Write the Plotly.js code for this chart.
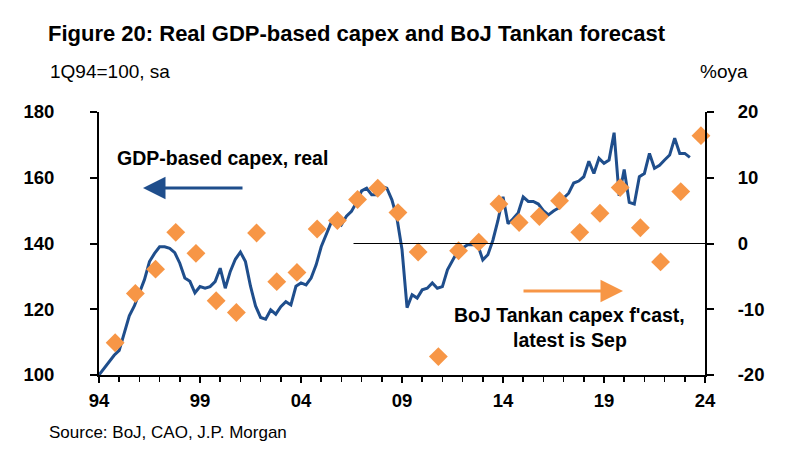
<!DOCTYPE html>
<html>
<head>
<meta charset="utf-8">
<script src="https://cdn.plot.ly/plotly-3.0.1.min.js"></script>
<style>
  html, body { margin: 0; padding: 0; background: #ffffff; }
  #chart { width: 799px; height: 465px; }
</style>
</head>
<body>
<div id="chart"></div>
<script>
// Real GDP-based capex, quarterly from 1Q94 (1Q94 = 100, sa) - left axis
const capexStartYear = 1994;
const capex = [
  100, 102, 104, 106, 107.5, 113, 118, 121, 124.8, 129,
  134.5, 137, 139, 139, 138.5, 137.2, 134, 129.5, 128.5, 125,
  126.9, 126.4, 126.9, 128.4, 132.5, 126.4, 131.5, 135.2, 137.4, 134.5,
  127, 121, 117.5, 117, 119.8, 118.5, 120.8, 122.3, 121.3, 127,
  128, 127.4, 129.5, 133.5, 139, 143, 146.5, 147.3, 145.7, 148.3,
  149.8, 152.5, 156, 156.8, 154.8, 154.8, 157.3, 156.8, 153.3, 147.7,
  138.2, 120.5, 124.4, 123.4, 125.9, 126.4, 128, 126.4, 126.9, 132,
  135, 137.6, 138.6, 139.6, 139.6, 139.6, 135, 136.6, 141, 147,
  154.2, 146, 147.5, 149.3, 154.2, 152.8, 152.8, 152, 150, 148.7,
  149.9, 150.8, 153.8, 155.3, 158.4, 159, 160.3, 165, 161.3, 165.9,
  164.4, 165.4, 173.7, 154.5, 162.5, 152.5, 152, 160.3, 161.3, 167.4,
  162.9, 163.8, 165.4, 166.9, 172, 167.4, 167.4, 166.2
];

// BoJ Tankan capex forecast, %oya, by fiscal year - right axis
const tankanFY = [
  1994, 1995, 1996, 1997, 1998, 1999, 2000, 2001, 2002, 2003,
  2004, 2005, 2006, 2007, 2008, 2009, 2010, 2011, 2012, 2013,
  2014, 2015, 2016, 2017, 2018, 2019, 2020, 2021, 2022, 2023
];
const tankan = [
  -15.1, -7.6, -3.9, 1.7, -1.5, -8.7, -10.5, 1.6, -5.8, -4.4,
  2.2, 3.5, 6.7, 8.4, 4.7, -1.3, -17.2, -1.1, 0.2, 6.0,
  3.2, 4.1, 6.5, 1.7, 4.6, 8.5, 2.4, -2.8, 7.9, 16.4
];

const xTickVals = [1994, 1999, 2004, 2009, 2014, 2019, 2024];
const xTickText = ['94', '99', '04', '09', '14', '19', '24'];
const leftTicks = [100, 120, 140, 160, 180];
const rightTicks = [-20, -10, 0, 10, 20];
const rightTickText = ['-20', '-10', '0', '10', '20'];

const capexX = capex.map((v, i) => capexStartYear + i / 4);
const tankanX = tankanFY.map(fy => fy + 0.8);

const FONT = '"Liberation Sans Narrow", "Arial Narrow", "Liberation Sans", Arial, sans-serif';
const BLUE = '#1F4E8C';
const ORANGE = '#F79646';

const traces = [
  {
    x: capexX, y: capex, type: 'scatter', mode: 'lines',
    line: { color: BLUE, width: 3 }, xaxis: 'x', yaxis: 'y',
    hoverinfo: 'x+y', showlegend: false
  },
  {
    x: tankanX, y: tankan, type: 'scatter', mode: 'markers',
    marker: { symbol: 'diamond', size: 14.5, color: ORANGE, line: { width: 0 } },
    xaxis: 'x', yaxis: 'y2', cliponaxis: false,
    hoverinfo: 'x+y', showlegend: false
  }
];

const tickFont = { family: FONT, size: 18.5, color: '#000', weight: 'bold' };

const layout = {
  width: 799, height: 465,
  margin: { l: 99, r: 94, t: 112, b: 90 },
  paper_bgcolor: '#ffffff', plot_bgcolor: '#ffffff',
  font: { family: FONT, color: '#000' },
  title: {
    text: '<b>Figure 20: Real GDP-based capex and BoJ Tankan forecast</b>',
    font: { family: FONT, size: 22, color: '#000' },
    xref: 'container', yref: 'container',
    x: 48 / 799, xanchor: 'left', y: 1 - 33 / 465, yanchor: 'middle'
  },
  xaxis: {
    range: [1994, 2024], showgrid: false, zeroline: false,
    showline: true, linecolor: '#000', linewidth: 2,
    tickmode: 'array', tickvals: xTickVals, ticktext: xTickText,
    ticks: 'outside', ticklen: 6, tickwidth: 2, tickcolor: '#000',
    minor: { dtick: 1, tick0: 1994, ticks: 'outside', ticklen: 5, tickwidth: 1.5, tickcolor: '#000' },
    tickfont: tickFont, ticklabelstandoff: 2,
    anchor: 'y'
  },
  xaxis3: {
    range: [1994, 2024], overlaying: 'x', anchor: 'y',
    showgrid: false, zeroline: false, showline: false,
    tickmode: 'array', tickvals: xTickVals, showticklabels: false,
    ticks: 'inside', ticklen: 6, tickwidth: 2, tickcolor: '#000',
    minor: { dtick: 1, tick0: 1994, ticks: 'inside', ticklen: 2, tickwidth: 1.5, tickcolor: '#000' }
  },
  yaxis: {
    range: [100, 180], showgrid: false, zeroline: false,
    showline: true, linecolor: '#000', linewidth: 2,
    tickmode: 'array', tickvals: leftTicks,
    ticks: 'outside', ticklen: 7, tickwidth: 2, tickcolor: '#000',
    tickfont: tickFont, ticklabelstandoff: 32
  },
  yaxis2: {
    range: [-20, 20], overlaying: 'y', side: 'right', anchor: 'x',
    showgrid: false, zeroline: false,
    showline: true, linecolor: '#000', linewidth: 2,
    tickmode: 'array', tickvals: rightTicks, ticktext: rightTickText,
    ticks: 'outside', ticklen: 7, tickwidth: 2, tickcolor: '#000',
    tickfont: tickFont, ticklabelstandoff: 20
  },
  shapes: [
    { type: 'line', xref: 'x', yref: 'y2', x0: 2006.6, x1: 2024, y0: 0, y1: 0,
      line: { color: '#000', width: 1 } }
  ],
  annotations: [
    { text: '1Q94=100, sa', xref: 'paper', yref: 'paper',
      x: (48 - 99) / 606, y: (375 - 71) / 263, xanchor: 'left', yanchor: 'middle',
      showarrow: false, font: { family: FONT, size: 19, color: '#000' } },
    { text: '%oya', xref: 'paper', yref: 'paper',
      x: (750 - 99) / 606, y: (375 - 71) / 263, xanchor: 'right', yanchor: 'middle',
      showarrow: false, font: { family: FONT, size: 19, color: '#000' } },
    { text: 'Source: BoJ, CAO, J.P. Morgan', xref: 'paper', yref: 'paper',
      x: (47 - 99) / 606, y: (375 - 432) / 263, xanchor: 'left', yanchor: 'middle',
      showarrow: false, font: { family: FONT, size: 17, color: '#000' } },
    { text: '<b>GDP-based capex, real</b>', xref: 'paper', yref: 'paper',
      x: (115 - 99) / 606, y: (375 - 158) / 263, xanchor: 'left', yanchor: 'middle',
      showarrow: false, font: { family: FONT, size: 19.5, color: '#000' } },
    { text: '', xref: 'paper', yref: 'paper',
      x: (143 - 99) / 606, y: (375 - 188) / 263,
      showarrow: true, ax: 101, ay: 0, arrowhead: 2, arrowsize: 1.5, arrowwidth: 3,
      arrowcolor: BLUE, standoff: 0, startstandoff: 0 },
    { text: '', xref: 'paper', yref: 'paper',
      x: (623 - 99) / 606, y: (375 - 291) / 263,
      showarrow: true, ax: -101, ay: 0, arrowhead: 2, arrowsize: 1.5, arrowwidth: 3,
      arrowcolor: ORANGE, standoff: 0, startstandoff: 0 },
    { text: "<b>BoJ Tankan capex f'cast,</b>", xref: 'paper', yref: 'paper',
      x: (569 - 99) / 606, y: (375 - 315) / 263, xanchor: 'center', yanchor: 'middle',
      showarrow: false, font: { family: FONT, size: 19.5, color: '#000' } },
    { text: '<b>latest is Sep</b>', xref: 'paper', yref: 'paper',
      x: (570 - 99) / 606, y: (375 - 340) / 263, xanchor: 'center', yanchor: 'middle',
      showarrow: false, font: { family: FONT, size: 19.5, color: '#000' } }
  ]
};

Plotly.newPlot('chart', traces, layout, { displayModeBar: false, staticPlot: true });
</script>
</body>
</html>
